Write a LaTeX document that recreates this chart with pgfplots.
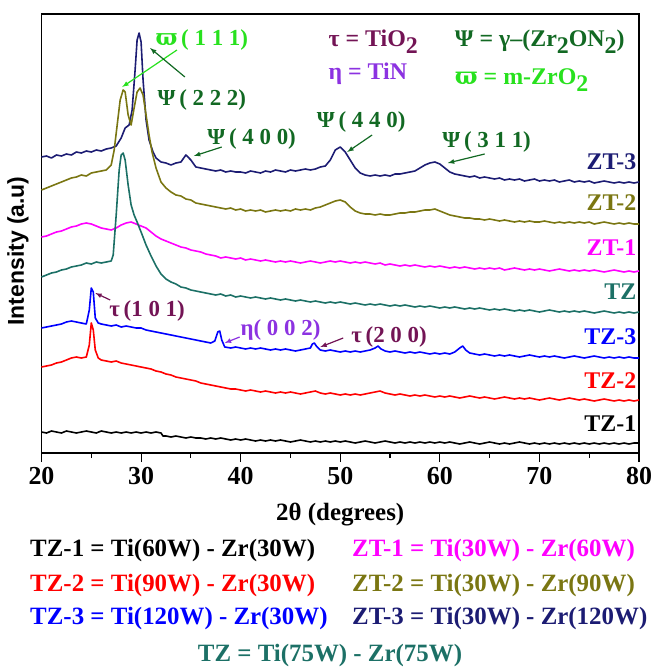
\documentclass[border=0pt]{standalone}
\usepackage{pgfplots}
\pgfplotsset{compat=1.18}
\usepackage{fontspec}
\setmainfont{Liberation Serif}
\newfontfamily\lsans{Liberation Sans}
\newfontfamily\dvs{DejaVu Serif}
\definecolor{cnavy}{RGB}{28,28,115}
\definecolor{colive}{RGB}{122,118,18}
\definecolor{cmag}{RGB}{255,0,255}
\definecolor{cteal}{RGB}{28,112,102}
\definecolor{cblue}{RGB}{0,0,255}
\definecolor{cred}{RGB}{255,0,0}
\definecolor{dgreen}{RGB}{18,105,35}
\definecolor{lgreen}{RGB}{40,225,30}
\definecolor{tpurp}{RGB}{115,20,85}
\definecolor{tviol}{RGB}{140,50,225}
\newcommand{\sub}[1]{\raisebox{-0.3em}{#1}}
\newcommand{\vpi}{{\dvs\bfseries ϖ}}
\begin{document}
\begin{tikzpicture}
\useasboundingbox (0,0) rectangle (657bp,671bp);
\begin{axis}[
  at={(41.5bp,218bp)}, anchor=south west,
  scale only axis, width=597.5bp, height=439bp,
  xmin=20, xmax=80, ymin=14, ymax=453, y dir=reverse,
  clip=false,
  ytick=\empty,
  xtick={20,30,...,80}, minor x tick num=1,
  xtick pos=bottom, tick align=outside,
  major tick length=9bp, minor tick length=5bp,
  axis line style={line width=1.5bp},
  every tick/.style={black, line width=1.1bp},
  /pgf/number format/assume math mode=true,
  xticklabel style={font=\fontsize{26}{28}\selectfont\bfseries, yshift=-2bp},
  every axis plot/.append style={line width=1.6bp, line join=round},
]
% ZT-3
\addplot[cnavy] coordinates {(20,157)(20.5,156)(21,158)(21.5,155)(22,156)(22.5,154)(23,155)(23.5,152)(24,153)(24.5,151)(25,152)(25.5,150)(26,151)(26.5,149)(27,148)(27.5,146)(28,138)(28.4,128)(28.8,125)(29.1,110)(29.4,70)(29.6,40)(29.8,33)(30,42)(30.2,80)(30.5,120)(30.8,140)(31.2,152)(31.5,158)(32,162)(32.5,163)(33,165)(33.5,163)(34,162)(34.5,155)(35,160)(35.5,167)(36,168)(36.5,169)(37,170)(37.5,171)(38,170)(38.5,172)(39,171)(39.5,172)(40,172)(40.5,173)(41,171)(41.5,172)(42,173)(42.5,171)(43,172)(43.5,170)(44,171)(44.5,172)(45,170)(45.5,171)(46,170)(46.5,169)(47,170)(47.5,169)(48,167)(48.5,166)(49,160)(49.5,150)(50,147)(50.5,152)(51,160)(51.5,168)(52,173)(52.5,175)(53,176)(53.5,175)(54,176)(54.5,175)(55,176)(55.5,174)(56,174)(56.5,173)(57,172)(57.5,171)(58,168)(58.5,165)(59,163)(59.5,162)(60,164)(60.5,168)(61,172)(61.5,174)(62,175)(62.5,176)(63,177)(63.5,176)(64,178)(64.5,177)(65,178)(65.5,179)(66,178)(66.5,180)(67,179)(67.5,180)(68,179)(68.5,181)(69,180)(69.5,179)(70,181)(70.5,180)(71,181)(71.5,180)(72,182)(72.5,181)(73,180)(73.5,182)(74,181)(74.5,182)(75,181)(75.5,183)(76,182)(76.5,181)(77,182)(77.5,183)(78,182)(78.5,183)(79,182)(79.5,183)(80,182)};
% ZT-2
\addplot[colive] coordinates {(20,190)(20.5,188)(21,186)(21.5,184)(22,182)(22.5,180)(23,178)(23.5,177)(24,175)(24.5,176)(25,173)(25.5,172)(26,171)(26.5,170)(27,165)(27.3,150)(27.6,125)(27.9,100)(28.2,90)(28.4,92)(28.7,115)(29,125)(29.3,108)(29.6,92)(29.9,88)(30.2,95)(30.5,115)(30.8,135)(31.1,152)(31.5,168)(32,182)(32.5,188)(33,192)(33.5,195)(34,196)(34.5,199)(35,200)(35.5,203)(36,204)(36.5,205)(37,206)(37.5,207)(38,208)(38.5,209)(39,208)(39.5,210)(40,209)(40.5,211)(41,210)(41.5,211)(42,210)(42.5,212)(43,211)(43.5,210)(44,211)(44.5,210)(45,211)(45.5,209)(46,210)(46.5,209)(47,210)(47.5,208)(48,207)(48.5,205)(49,203)(49.5,201)(50,200)(50.5,202)(51,207)(51.5,211)(52,213)(52.5,214)(53,214)(53.5,215)(54,214)(54.5,215)(55,215)(55.5,214)(56,213)(56.5,213)(57,212)(57.5,212)(58,211)(58.5,210)(59,210)(59.5,209)(60,211)(60.5,213)(61,215)(61.5,216)(62,217)(62.5,218)(63,218)(63.5,219)(64,219)(64.5,220)(65,219)(65.5,220)(66,221)(66.5,220)(67,221)(67.5,222)(68,221)(68.5,222)(69,221)(69.5,222)(70,222)(70.5,221)(71,222)(71.5,223)(72,222)(72.5,223)(73,222)(73.5,223)(74,222)(74.5,223)(75,222)(75.5,224)(76,223)(76.5,222)(77,223)(77.5,224)(78,223)(78.5,224)(79,223)(79.5,224)(80,224)};
% ZT-1
\addplot[cmag] coordinates {(20,237)(20.5,236)(21,234)(21.5,232)(22,231)(22.5,229)(23,227)(23.5,226)(24,224)(24.5,223)(25,224)(25.5,226)(26,228)(26.5,229)(27,230)(27.5,228)(28,225)(28.5,223)(29,222)(29.5,224)(30,226)(30.5,228)(31,232)(31.5,236)(32,239)(32.5,241)(33,243)(33.5,245)(34,247)(34.5,248)(35,250)(35.5,251)(36,252)(36.5,254)(37,255)(37.5,256)(38,258)(38.5,257)(39,258)(39.5,259)(40,258)(40.5,260)(41,259)(41.5,260)(42,261)(42.5,260)(43,261)(43.5,262)(44,261)(44.5,262)(45,261)(45.5,262)(46,263)(46.5,262)(47,261)(47.5,262)(48,263)(48.5,262)(49,261)(49.5,262)(50,261)(50.5,262)(51,263)(51.5,262)(52,263)(52.5,262)(53,263)(53.5,264)(54,263)(54.5,265)(55,264)(55.5,265)(56,266)(56.5,265)(57,266)(57.5,265)(58,266)(58.5,267)(59,266)(59.5,267)(60,266)(60.5,267)(61,268)(61.5,267)(62,268)(62.5,267)(63,268)(63.5,269)(64,268)(64.5,269)(65,268)(65.5,269)(66,268)(66.5,270)(67,269)(67.5,268)(68,269)(68.5,270)(69,269)(69.5,270)(70,269)(70.5,270)(71,271)(71.5,270)(72,269)(72.5,270)(73,271)(73.5,270)(74,271)(74.5,270)(75,271)(75.5,270)(76,271)(76.5,272)(77,271)(77.5,270)(78,271)(78.5,272)(79,271)(79.5,272)(80,271)};
% TZ
\addplot[cteal] coordinates {(20,277)(20.5,275)(21,273)(21.5,272)(22,270)(22.5,269)(23,267)(23.5,266)(24,265)(24.5,263)(25,264)(25.5,262)(26,263)(26.5,262)(27,261)(27.2,255)(27.5,215)(27.8,170)(28,155)(28.2,153)(28.4,160)(28.7,185)(29,205)(29.3,215)(29.6,222)(30,232)(30.5,245)(31,256)(31.5,266)(32,274)(32.5,279)(33,282)(33.5,284)(34,287)(34.5,288)(35,290)(35.5,291)(36,292)(36.5,293)(37,294)(37.5,295)(38,294)(38.5,296)(39,295)(39.5,297)(40,296)(40.5,297)(41,298)(41.5,297)(42,298)(42.5,299)(43,298)(43.5,299)(44,300)(44.5,299)(45,300)(45.5,301)(46,300)(46.5,301)(47,302)(47.5,301)(48,302)(48.5,303)(49,302)(49.5,303)(50,302)(50.5,303)(51,304)(51.5,303)(52,304)(52.5,305)(53,304)(53.5,305)(54,304)(54.5,305)(55,306)(55.5,305)(56,306)(56.5,305)(57,306)(57.5,307)(58,306)(58.5,307)(59,306)(59.5,307)(60,308)(60.5,307)(61,308)(61.5,307)(62,308)(62.5,309)(63,308)(63.5,309)(64,308)(64.5,309)(65,310)(65.5,309)(66,310)(66.5,309)(67,310)(67.5,311)(68,310)(68.5,311)(69,310)(69.5,311)(70,312)(70.5,311)(71,310)(71.5,311)(72,312)(72.5,311)(73,312)(73.5,311)(74,312)(74.5,311)(75,312)(75.5,313)(76,312)(76.5,311)(77,312)(77.5,313)(78,312)(78.5,313)(79,312)(79.5,313)(80,312)};
% TZ-3
\addplot[cblue] coordinates {(20,328)(20.5,327)(21,326)(21.5,325)(22,324)(22.5,322)(23,321)(23.5,322)(24,323)(24.5,324)(24.8,310)(25,288)(25.2,292)(25.4,318)(25.7,323)(26,324)(26.5,325)(27,326)(27.5,325)(28,327)(28.5,326)(29,327)(29.5,328)(30,328)(30.5,330)(31,331)(31.5,332)(32,333)(32.5,334)(33,335)(33.5,336)(34,337)(34.5,338)(35,339)(35.5,340)(36,341)(36.5,342)(37,343)(37.4,341)(37.7,332)(37.9,331)(38.1,340)(38.4,347)(39,348)(39.5,347)(40,348)(40.5,349)(41,348)(41.5,349)(42,348)(42.5,349)(43,350)(43.5,349)(44,350)(44.5,349)(45,350)(45.5,351)(46,350)(46.5,349)(47,348)(47.2,344)(47.4,343)(47.6,346)(48,350)(48.5,351)(49,350)(49.5,351)(50,352)(50.5,351)(51,352)(51.5,351)(52,352)(52.5,351)(53,350)(53.5,348)(53.8,346)(54.1,349)(54.5,351)(55,352)(55.5,351)(56,352)(56.5,353)(57,352)(57.5,353)(58,352)(58.5,353)(59,354)(59.5,353)(60,354)(60.5,353)(61,354)(61.5,352)(62,348)(62.3,346)(62.6,350)(63,353)(63.5,354)(64,355)(64.5,354)(65,355)(65.5,356)(66,355)(66.5,356)(67,355)(67.5,356)(68,357)(68.5,356)(69,355)(69.5,356)(70,357)(70.5,356)(71,357)(71.5,356)(72,357)(72.5,358)(73,357)(73.5,356)(74,357)(74.5,358)(75,357)(75.5,356)(76,357)(76.5,358)(77,357)(77.5,358)(78,357)(78.5,358)(79,357)(79.5,358)(80,358)};
% TZ-2
\addplot[cred] coordinates {(20,367)(20.5,366)(21,365)(21.5,363)(22,362)(22.5,360)(23,358)(23.5,357)(24,358)(24.5,357)(24.8,345)(25,323)(25.2,330)(25.4,350)(25.7,358)(26,360)(26.5,361)(27,362)(27.5,361)(28,363)(28.5,364)(29,365)(29.5,366)(30,367)(30.5,368)(31,369)(31.5,371)(32,372)(32.5,374)(33,375)(33.5,377)(34,378)(34.5,379)(35,380)(35.5,381)(36,383)(36.5,384)(37,385)(37.5,386)(38,387)(38.5,388)(39,389)(39.5,389)(40,390)(40.5,391)(41,390)(41.5,391)(42,392)(42.5,391)(43,392)(43.5,393)(44,392)(44.5,393)(45,392)(45.5,393)(46,394)(46.5,393)(47,392)(47.5,391)(48,393)(48.5,394)(49,393)(49.5,394)(50,395)(50.5,394)(51,395)(51.5,394)(52,395)(52.5,394)(53,393)(53.5,392)(54,391)(54.5,393)(55,394)(55.5,395)(56,394)(56.5,395)(57,396)(57.5,395)(58,396)(58.5,395)(59,396)(59.5,397)(60,396)(60.5,397)(61,396)(61.5,397)(62,398)(62.5,397)(63,396)(63.5,397)(64,398)(64.5,397)(65,398)(65.5,399)(66,398)(66.5,397)(67,398)(67.5,399)(68,398)(68.5,399)(69,398)(69.5,399)(70,400)(70.5,399)(71,398)(71.5,399)(72,400)(72.5,399)(73,398)(73.5,399)(74,400)(74.5,399)(75,400)(75.5,401)(76,400)(76.5,399)(77,400)(77.5,401)(78,400)(78.5,401)(79,400)(79.5,401)(80,400)};
% TZ-1
\addplot[black] coordinates {(20,432)(20.5,433)(21,431)(21.5,432)(22,433)(22.5,431)(23,432)(23.5,433)(24,432)(24.5,431)(25,432)(25.5,433)(26,431)(26.5,432)(27,433)(27.5,432)(28,433)(28.5,432)(29,433)(29.5,432)(30,433)(30.5,432)(31,433)(31.5,432)(32,433)(32.2,436)(32.5,436)(33,437)(33.5,436)(34,437)(34.5,438)(35,437)(35.5,438)(36,438)(36.5,439)(37,438)(37.5,439)(38,438)(38.5,439)(39,440)(39.5,439)(40,440)(40.5,439)(41,440)(41.5,441)(42,440)(42.5,441)(43,440)(43.5,441)(44,440)(44.5,441)(45,442)(45.5,441)(46,440)(46.5,441)(47,442)(47.5,441)(48,442)(48.5,441)(49,442)(49.5,441)(50,442)(50.5,441)(51,442)(51.5,443)(52,442)(52.5,441)(53,442)(53.5,443)(54,442)(54.5,441)(55,442)(55.5,443)(56,442)(56.5,443)(57,442)(57.5,443)(58,442)(58.5,443)(59,442)(59.5,443)(60,442)(60.5,443)(61,442)(61.5,443)(62,444)(62.5,443)(63,442)(63.5,443)(64,444)(64.5,443)(65,442)(65.5,443)(66,444)(66.5,443)(67,444)(67.5,443)(68,442)(68.5,443)(69,444)(69.5,443)(70,444)(70.5,443)(71,444)(71.5,443)(72,444)(72.5,443)(73,444)(73.5,443)(74,444)(74.5,443)(75,444)(75.5,443)(76,444)(76.5,443)(77,444)(77.5,443)(78,444)(78.5,443)(79,444)(79.5,443)(80,443)};

% curve labels
\begin{scope}[every node/.style={anchor=east, font=\fontsize{24}{26}\selectfont\bfseries, inner sep=0pt}]
\node[text=cnavy] at (axis cs:79.75,162) {ZT-3};
\node[text=colive] at (axis cs:79.75,203) {ZT-2};
\node[text=cmag] at (axis cs:79.75,248) {ZT-1};
\node[text=cteal] at (axis cs:79.75,292) {TZ};
\node[text=cblue] at (axis cs:79.75,337) {TZ-3};
\node[text=cred] at (axis cs:79.75,381) {TZ-2};
\node[text=black] at (axis cs:79.75,424) {TZ-1};
\end{scope}

% peak annotations
\begin{scope}[every node/.style={font=\fontsize{23}{25}\selectfont\bfseries, inner sep=0pt}]
\node[text=lgreen] at (axis cs:36.1,40) {\vpi\,( 1 1 1)};
\node[text=dgreen] at (axis cs:36.1,100) {Ψ\,( 2 2 2)};
\node[text=dgreen] at (axis cs:41.1,139) {Ψ\,( 4 0 0)};
\node[text=dgreen] at (axis cs:52.1,122) {Ψ\,( 4 4 0)};
\node[text=dgreen] at (axis cs:64.7,142) {Ψ\,( 3 1 1)};
\node[text=tpurp] at (axis cs:30.6,311) {τ\,(1 0 1)};
\node[text=tviol] at (axis cs:44.0,330) {η( 0 0 2)};
\node[text=tpurp] at (axis cs:54.9,337) {τ\,(2 0 0)};
\end{scope}
\draw[-latex, lgreen, line width=1.2bp] (axis cs:33.6,50) -- (axis cs:28.1,87);
\draw[-latex, dgreen, line width=1.2bp] (axis cs:34.4,77) -- (axis cs:30.9,48);
\draw[-latex, dgreen, line width=1.2bp] (axis cs:38.1,147) -- (axis cs:35.3,156);
\draw[-latex, dgreen, line width=1.2bp] (axis cs:53.2,135) -- (axis cs:50.7,152);
\draw[-latex, dgreen, line width=1.2bp] (axis cs:64.5,154) -- (axis cs:60.8,163);
\draw[-latex, tpurp, line width=1.2bp] (axis cs:26.9,300) -- (axis cs:25.4,293);
\draw[-latex, tviol, line width=1.2bp] (axis cs:39.9,337) -- (axis cs:38.4,343);
\draw[-latex, tpurp, line width=1.2bp] (axis cs:50.3,338) -- (axis cs:48.0,347);

% phase legend
\begin{scope}[every node/.style={anchor=west, font=\fontsize{24}{26}\selectfont\bfseries, inner sep=0pt}]
\node[text=tpurp] at (axis cs:48.8,42) {τ = TiO\sub{2}};
\node[text=tviol] at (axis cs:48.8,74) {η = TiN};
\node[text=dgreen] at (axis cs:61.5,42) {Ψ = γ–(Zr\sub{2}ON\sub{2})};
\node[text=lgreen] at (axis cs:61.5,80) {\vpi{} = m-ZrO\sub{2}};
\end{scope}

% axis titles
\node[font=\fontsize{25}{28}\selectfont\bfseries] at (axis cs:50,515) {2θ (degrees)};
\node[rotate=90, font=\fontsize{23}{26}\selectfont\lsans\bfseries] at (axis cs:17.64,251) {Intensity (a.u)};

% sample legend
\begin{scope}[every node/.style={anchor=west, font=\fontsize{25}{27}\selectfont\bfseries, inner sep=0pt}]
\node[text=black] at (axis cs:18.85,551) {TZ-1 = Ti(60W) - Zr(30W)};
\node[text=cred] at (axis cs:18.85,586) {TZ-2 = Ti(90W) - Zr(30W)};
\node[text=cblue] at (axis cs:18.85,619) {TZ-3 = Ti(120W) - Zr(30W)};
\node[text=cmag] at (axis cs:51.18,551) {ZT-1 = Ti(30W) - Zr(60W)};
\node[text=colive] at (axis cs:51.18,586) {ZT-2 = Ti(30W) - Zr(90W)};
\node[text=cnavy] at (axis cs:51.18,619) {ZT-3 = Ti(30W) - Zr(120W)};
\node[text=cteal, anchor=center] at (axis cs:48.97,656) {TZ = Ti(75W) - Zr(75W)};
\end{scope}
\end{axis}
\end{tikzpicture}
\end{document}
